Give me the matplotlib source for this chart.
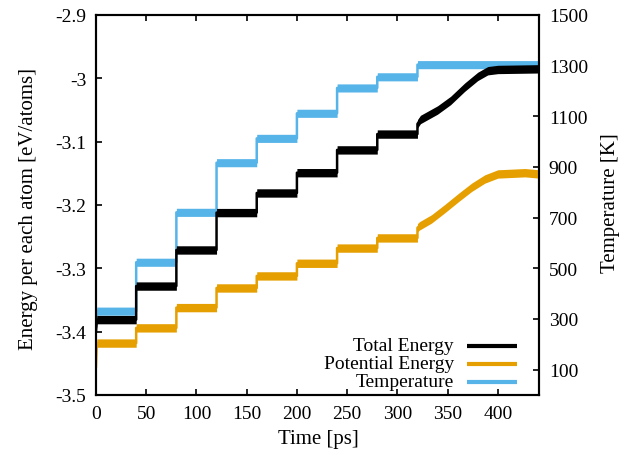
import numpy as np
import matplotlib
matplotlib.use("Agg")
import matplotlib.pyplot as plt
from matplotlib.ticker import FuncFormatter


# step boundaries [ps] and plateau values
step_times = [0, 40, 80, 120, 160, 200, 240, 280, 320]
total_steps = [-3.381, -3.328, -3.271, -3.212, -3.181, -3.149, -3.113, -3.088]
potential_steps = [-3.418, -3.394, -3.362, -3.331, -3.312, -3.292, -3.268, -3.252]
temperature_steps = [331, 524, 721, 917, 1013, 1112, 1212, 1256]

# heating ramp after 320 ps
total_ramp_t = [320, 323, 340, 353, 367, 380, 390, 400, 441]
total_ramp = [-3.072, -3.065, -3.050, -3.035, -3.014, -2.997, -2.988, -2.986, -2.985]
potential_ramp_t = [320, 322, 334, 347, 361, 374, 387, 400, 427, 441]
potential_ramp = [-3.236, -3.233, -3.222, -3.206, -3.188, -3.172, -3.159, -3.151, -3.149, -3.151]
temperature_ramp_t = [320, 441]
temperature_ramp = [1304, 1304]

# first-frame values (initial transient)
total_start = -3.40
potential_start = -3.455
temperature_start = 270

left_ticks = [-3.5, -3.4, -3.3, -3.2, -3.1, -3.0, -2.9]
right_ticks = [100, 300, 500, 700, 900, 1100, 1300, 1500]
x_ticks = [0, 50, 100, 150, 200, 250, 300, 350, 400]
labels = ["Total Energy", "Potential Energy", "Temperature"]

black = "#000000"
orange = "#E69F00"
blue = "#56B4E9"


def build_trace(start, steps, ramp_t, ramp_v):
    t = [0.0]
    v = [start]
    for i, val in enumerate(steps):
        t += [step_times[i] + (0.8 if i == 0 else 0.0), step_times[i + 1]]
        v += [val, val]
    t += list(ramp_t)
    v += list(ramp_v)
    return np.array(t), np.array(v)


def draw_band(ax, t, v, half, color, z):
    # thick noisy band: constant vertical thickness, thin vertical jumps
    ax.fill_between(t, v - half, v + half, color=color, lw=0, zorder=z)
    ax.plot(t, v, color=color, lw=1.8, zorder=z)


plt.rcParams["font.family"] = ["Liberation Serif", "DejaVu Serif"]
plt.rcParams["axes.unicode_minus"] = False

fig = plt.figure(figsize=(6.33, 4.60), dpi=100)
ax = fig.add_axes([96 / 633, 1 - 396 / 460, 443 / 633, 380 / 460])
ax2 = ax.twinx()
ax.set_zorder(ax2.get_zorder() + 1)
ax.patch.set_visible(False)

tt, tv = build_trace(total_start, total_steps, total_ramp_t, total_ramp)
pt, pv = build_trace(potential_start, potential_steps, potential_ramp_t, potential_ramp)
Tt, Tv = build_trace(temperature_start, temperature_steps, temperature_ramp_t, temperature_ramp)

draw_band(ax2, Tt, Tv, 16.0, blue, 2)
draw_band(ax, pt, pv, 0.0066, orange, 2)
draw_band(ax, tt, tv, 0.0066, black, 3)

ax.set_xlim(0, 441)
ax.set_ylim(-3.5, -2.9)
ax2.set_ylim(0, 1500)

ax.set_xticks(x_ticks)
ax.set_yticks(left_ticks)
ax2.set_yticks(right_ticks)
ax.yaxis.set_major_formatter(FuncFormatter(lambda v, p: "%g" % round(v, 3)))

for a in (ax, ax2):
    for s in a.spines.values():
        s.set_linewidth(1.5)
ax.tick_params(axis="both", direction="in", length=4, width=1.2,
               labelsize=14, top=True, right=False, pad=7)
ax2.tick_params(axis="y", direction="in", length=4, width=1.2,
                labelsize=14, pad=7)

fig.text(318 / 633, 1 - 440 / 460, "Time [ps]", fontsize=15,
         ha="center", va="center")
fig.text(29 / 633, 1 - 209 / 460, "Energy per each atom [eV/atoms]",
         fontsize=15, rotation=90, ha="center", va="center")
fig.text(610 / 633, 1 - 203 / 460, "Temperature [K]", fontsize=15,
         rotation=90, ha="center", va="center")

# gnuplot-style key: right-aligned text, sample to the right
key_colors = [black, orange, blue]
key_rows = [0.129, 0.082, 0.035]
for lab, col, yk in zip(labels, key_colors, key_rows):
    ax.text(0.808, yk, lab, transform=ax.transAxes, fontsize=14,
            ha="right", va="center", zorder=5)
    ax.plot([0.8375, 0.950], [yk, yk], transform=ax.transAxes,
            color=col, lw=3, solid_capstyle="butt", zorder=5)

fig.savefig("out.png", dpi=100)
